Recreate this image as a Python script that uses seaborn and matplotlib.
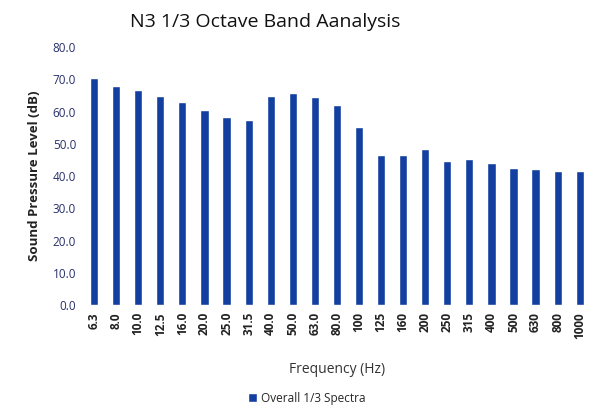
import pandas as pd
import seaborn as sns
import matplotlib.pyplot as plt

freqs = ['6.3', '8.0', '10.0', '12.5', '16.0', '20.0', '25.0', '31.5', '40.0', '50.0',
         '63.0', '80.0', '100', '125', '160', '200', '250', '315', '400', '500',
         '630', '800', '1000']
spl = [70.4, 67.9, 66.7, 64.8, 62.9, 60.5, 58.3, 57.4, 64.8, 65.7,
       64.5, 62.0, 55.2, 46.5, 46.5, 48.4, 44.7, 45.3, 44.0, 42.5,
       42.2, 41.6, 41.6]
yticks = [0, 10, 20, 30, 40, 50, 60, 70, 80]

df = pd.DataFrame({'Frequency': freqs, 'SPL': spl, 'series': 'Overall 1/3 Spectra'})

sns.set_theme(style="white")
plt.rcParams['font.family'] = ['Open Sans', 'DejaVu Sans']

fig = plt.figure(figsize=(5.89, 4.09), dpi=100)
ax = fig.add_axes([0.141, 0.254, 0.862, 0.631])

bar_color = '#1340a0'
sns.barplot(data=df, x='Frequency', y='SPL', hue='series', palette=[bar_color],
            saturation=1, width=0.37, ax=ax, legend=True)

ax.set_ylim(0, 80)
ax.set_xlim(-0.5, 22.5)
ax.set_yticks(yticks)
ax.set_yticklabels([f'{v:.1f}' for v in yticks], fontsize=8.5, color='#27306b')
ax.set_xticks(range(len(freqs)))
ax.set_xticklabels(freqs, rotation=90, fontsize=8.5, fontweight='bold', color='#222222')
ax.tick_params(axis='both', length=0, pad=5)
for s in ax.spines.values():
    s.set_visible(False)

ax.set_xlabel('Frequency (Hz)', fontsize=10, color='#333333', labelpad=17)
ax.set_ylabel('Sound Pressure Level (dB)', fontsize=9.5, fontweight='bold', color='#222222', labelpad=8)
fig.suptitle('N3 1/3 Octave Band Aanalysis', fontsize=14, x=0.45, y=0.945,
             va='center', color='#111111')

leg = ax.legend(loc='center', bbox_to_anchor=(0.44, -0.36), frameon=False,
                fontsize=8.5, handlelength=0.8, handleheight=0.8, handletextpad=0.3,
                borderpad=0.1)

fig.savefig('out.png', dpi=100)
